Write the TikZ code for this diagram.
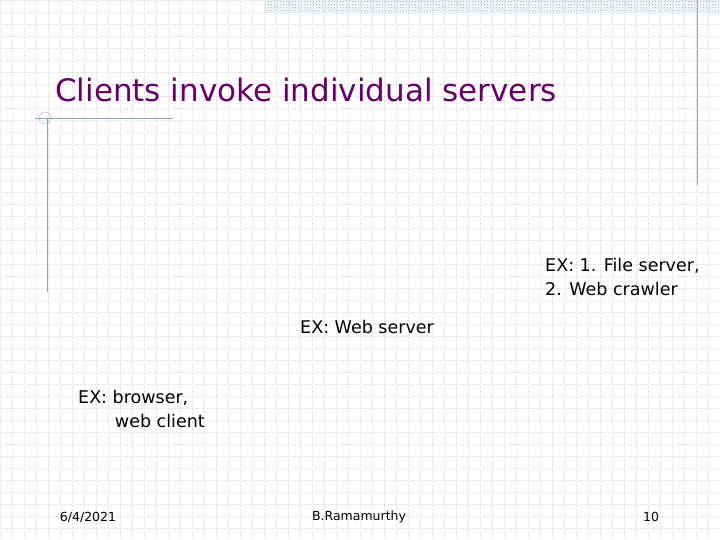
\documentclass[tikz,border=0pt]{standalone}
\usepackage{fontspec}
\setmainfont{DejaVu Sans}
\usetikzlibrary{positioning,patterns}
\definecolor{titlepurple}{RGB}{102,0,102}
\definecolor{rulegray}{RGB}{140,160,200}
\definecolor{gridgray}{RGB}{228,228,228}

\begin{document}
\begin{tikzpicture}[x=1pt,y=1pt,
    label/.style={anchor=north west, font=\fontsize{17.5}{24}\selectfont, align=left, inner sep=0pt},
    footer/.style={font=\fontsize{12.5}{14}\selectfont, inner sep=0pt}
]
\useasboundingbox (0,0) rectangle (720,540);

% Background grid
\draw[gridgray, densely dotted, step=12] (0,0) grid (720,540);

% Decorations
\fill[pattern=crosshatch dots, pattern color=rulegray] (265,528) rectangle (720,540);
\draw[rulegray] (697,540) -- (697,355);
\draw[rulegray] (47,422) -- (47,248);
\draw[rulegray] (35,422) -- (173,422);
\draw[rulegray] (45,422) circle (6);

% Title
\node[anchor=west, text=titlepurple, font=\fontsize{31}{36}\selectfont, inner sep=0pt] (title) at (55,450) {Clients invoke individual servers};

% Labels
\node[label] (fileserver) at (545,282) {EX: 1. File server,\\2. Web crawler};
\node[label] (webserver) at (300,220) {EX: Web server};
\node[label] (browser) at (78,150) {EX: browser,\\\hspace*{2.1em}web client};

% Footer
\node[footer] (date) at (88,23) {6/4/2021};
\node[footer] (author) at (359,23) {B.Ramamurthy};
\node[footer] (page) at (651,23) {10};
\end{tikzpicture}
\end{document}
